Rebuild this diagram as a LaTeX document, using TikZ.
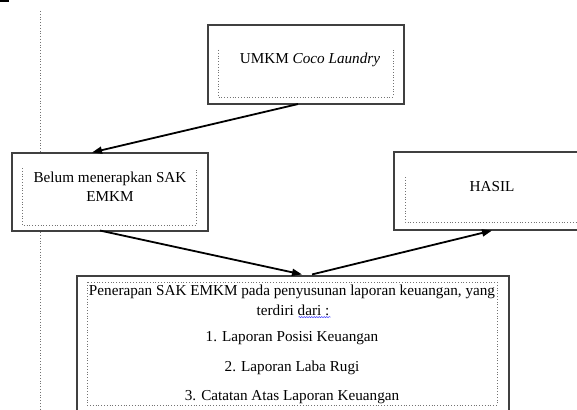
\documentclass[tikz,border=0pt]{standalone}
\usepackage{fontspec}
\setmainfont{Liberation Serif}
\usetikzlibrary{arrows.meta,calc,decorations.pathmorphing}
\tikzset{
  outerbox/.style={draw=black!75, line width=1.1pt, fill=white, inner sep=0pt},
  innerdot/.style={draw=black!55, line width=0.8pt, dotted},
  txt/.style={font=\fontsize{15.2}{19}\selectfont, inner sep=0pt, align=center},
  flow/.style={line width=1.8pt, -{Triangle[length=10pt,width=7pt]}},
}
\begin{document}
\begin{tikzpicture}[x=1pt,y=-1pt]
\useasboundingbox (0,0) rectangle (577,409);
% top-left mark
\fill[black] (0,0) rectangle (9,2.5);
% vertical dotted guide
\draw[innerdot] (40,11) -- (40,409);

% UMKM box
\node[outerbox, minimum width=196pt, minimum height=79pt] (umkm) at (306,64.5) {};
\draw[innerdot] (218,50) -- (218,97) -- (393,97) -- (393,50);
\node[txt] (umkmtxt) at (310,60) {UMKM \textit{Coco Laundry}};

% Belum box
\node[outerbox, minimum width=196pt, minimum height=78pt] (belum) at (110,192) {};
\draw[innerdot] (22,168) -- (22,225) -- (196,225) -- (196,168);
\node[txt] (belumtxt) at (110,187) {Belum menerapkan SAK\\EMKM};

% HASIL box
\node[outerbox, minimum width=196pt, minimum height=78pt] (hasil) at (492,191) {};
\draw[innerdot] (405,177) -- (405,222) -- (590,222);
\node[txt] (hasiltxt) at (492,187) {HASIL};

% Bottom box
\node[outerbox, minimum width=432pt, minimum height=150pt] (pen) at (293,351) {};
\draw[innerdot] (87,282) rectangle (497,405);
\node[txt] (l1) at (292,292) {Penerapan SAK EMKM pada penyusunan laporan keuangan, yang};
\node[txt] (l2) at (293,310) {terdiri dari :};
\node[txt] (l3) at (292,338) {1. Laporan Posisi Keuangan};
\node[txt] (l4) at (292,368) {2. Laporan Laba Rugi};
\node[txt] (l5) at (292,397) {3. Catatan Atas Laporan Keuangan};
\draw[blue!70, line width=0.5pt, decorate, decoration={snake, amplitude=0.6pt, segment length=2.5pt}]
  ($(l2.south west)+(42,1.5)$) -- ($(l2.south east)+(1,1.5)$);

% connectors
\draw[flow] ($(umkm.south)+(-8,-0.5)$) -- ($(belum.north)+(-18,0)$);
\draw[flow] ($(belum.south)+(-10,-1)$) -- ($(pen.north)+(9,-1)$);
\draw[flow] ($(pen.north)+(19,-1)$) -- ($(hasil.south)+(0,0)$);
\end{tikzpicture}
\end{document}
